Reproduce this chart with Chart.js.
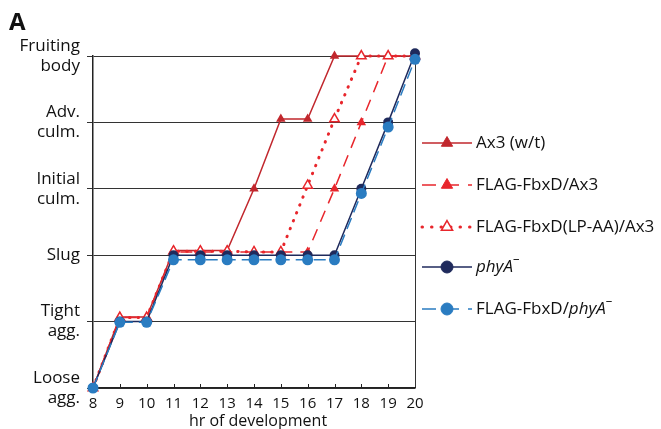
<!DOCTYPE html>
<html>
<head>
<meta charset="utf-8">
<script src="https://cdn.jsdelivr.net/npm/chart.js@4/dist/chart.umd.min.js"></script>
<style>
  html, body { margin: 0; padding: 0; background: #fff; }
</style>
</head>
<body>
<canvas id="devChart" width="661" height="429"></canvas>
<script>
// hours of development (x) and developmental stages (y, 0 = loose agg.)
const hours = [8, 9, 10, 11, 12, 13, 14, 15, 16, 17, 18, 19, 20];
const stageLabels = [['Loose', 'agg.'], ['Tight', 'agg.'], ['Slug'], ['Initial', 'culm.'], ['Adv.', 'culm.'], ['Fruiting', 'body']];
const xTitle = 'hr of development';

const ax3 =      [0, 1.07, 1.07, 2.07, 2.07, 2.07, 3, 4.05, 4.05, 5, 5, 5, 5];
const fbxdAx3 =  [0, 1.06, 1.06, 2.05, 2.05, 2.05, 2.05, 2.05, 2.05, 3, 4, 5, 5];
const lpaaAx3 =  [0, 1.06, 1.06, 2.06, 2.06, 2.06, 2.05, 2.05, 3.05, 4.05, 5, 5, 5];
const phyA =     [0, 1, 1, 2, 2, 2, 2, 2, 2, 2, 3, 4, 5.04];
const fbxdPhyA = [0, 0.99, 0.99, 1.93, 1.93, 1.93, 1.93, 1.93, 1.93, 1.93, 2.93, 3.93, 4.95];

const FONT = '"Open Sans", "Noto Sans", sans-serif';
const DARK_RED = '#c1272d';
const RED = '#e8262c';
const NAVY = '#1f2a5c';
const BLUE = '#2a7cc1';

function toPoints(values) {
    return hours.map((h, i) => ({ x: h, y: values[i] }));
}

// legend entries: text pieces are [text, style]
const legendItems = [
    { color: DARK_RED, dash: [], width: 1.5, style: 'triangle', fill: true,
      text: [['Ax3 (w/t)', '']] },
    { color: RED, dash: [14, 9], width: 1.5, style: 'triangle', fill: true,
      text: [['FLAG-FbxD/Ax3', '']] },
    { color: RED, dash: [0.5, 9], width: 3, style: 'triangle', fill: false,
      text: [['FLAG-FbxD(LP-AA)/Ax3', '']] },
    { color: NAVY, dash: [], width: 1.5, style: 'circle', fill: true,
      text: [['phyA', 'italic'], ['\u2013', 'sup']] },
    { color: BLUE, dash: [14, 9], width: 1.5, style: 'circle', fill: true,
      text: [['FLAG-FbxD/', ''], ['phyA', 'italic'], ['\u2013', 'sup']] }
];

const extrasPlugin = {
    id: 'extras',
    afterDraw(chart) {
        const ctx = chart.ctx;
        const xs = chart.scales.x;
        const area = chart.chartArea;
        ctx.save();

        // small inner ticks on the x axis
        ctx.strokeStyle = '#222';
        ctx.lineWidth = 1;
        hours.forEach(h => {
            if (h === 8 || h === 20) return;
            const px = Math.round(xs.getPixelForValue(h)) + 0.5;
            ctx.beginPath();
            ctx.moveTo(px, area.bottom);
            ctx.lineTo(px, area.bottom - 4);
            ctx.stroke();
        });

        // axis title, a bit right of centre like the original
        ctx.fillStyle = '#111';
        ctx.font = '16px ' + FONT;
        ctx.textAlign = 'center';
        ctx.textBaseline = 'middle';
        ctx.fillText(xTitle, (area.left + area.right) / 2 + 4, 421);

        // panel letter
        ctx.font = 'bold 24px ' + FONT;
        ctx.textAlign = 'left';
        ctx.fillText('A', 9, 23);

        // legend
        const legendYs = [143, 185, 227, 267, 309];
        legendItems.forEach((item, i) => {
            const y = legendYs[i];
            ctx.strokeStyle = item.color;
            ctx.lineWidth = item.width;
            ctx.lineCap = item.dash.length && item.dash[0] < 1 ? 'round' : 'butt';
            ctx.setLineDash(item.dash);
            ctx.beginPath();
            ctx.moveTo(422, y);
            ctx.lineTo(472, y);
            ctx.stroke();
            ctx.setLineDash([]);

            ctx.fillStyle = item.fill ? item.color : '#fff';
            ctx.strokeStyle = item.color;
            ctx.lineWidth = item.fill ? 1 : 1.5;
            Chart.helpers.drawPoint(ctx, {
                pointStyle: item.style, radius: item.style === 'circle' ? 6 : 6.5,
                borderWidth: ctx.lineWidth, rotation: 0
            }, 447, y);

            let tx = 476;
            ctx.fillStyle = '#111';
            ctx.textAlign = 'left';
            item.text.forEach(([t, s]) => {
                let dy = 0;
                if (s === 'italic') ctx.font = 'italic 17px ' + FONT;
                else if (s === 'sup') { ctx.font = '13px ' + FONT; dy = -8; }
                else ctx.font = '17px ' + FONT;
                ctx.fillText(t, tx, y + dy);
                tx += ctx.measureText(t).width;
            });
        });
        ctx.restore();
    }
};

const ctx = document.getElementById('devChart').getContext('2d');

new Chart(ctx, {
    type: 'line',
    data: {
        datasets: [
            {
                label: 'FLAG-FbxD/phyA',
                data: toPoints(fbxdPhyA),
                borderColor: BLUE, backgroundColor: BLUE,
                borderWidth: 1.5, borderDash: [12, 6],
                pointStyle: 'circle', pointRadius: 5.5, pointBorderWidth: 0,
                order: 1
            },
            {
                label: 'phyA',
                data: toPoints(phyA),
                borderColor: NAVY, backgroundColor: NAVY,
                borderWidth: 1.5,
                pointStyle: 'circle', pointRadius: 5, pointBorderWidth: 0,
                order: 2
            },
            {
                label: 'FLAG-FbxD(LP-AA)/Ax3',
                data: toPoints(lpaaAx3),
                borderColor: RED, backgroundColor: '#fff',
                borderWidth: 3, borderDash: [0.5, 8], borderCapStyle: 'round',
                pointStyle: 'triangle', pointRadius: 5.5, pointBorderWidth: 1.5,
                pointBackgroundColor: '#fff', pointBorderColor: RED,
                order: 3
            },
            {
                label: 'FLAG-FbxD/Ax3',
                data: toPoints(fbxdAx3),
                borderColor: RED, backgroundColor: RED,
                borderWidth: 1.5, borderDash: [12, 8],
                pointStyle: 'triangle', pointRadius: 5.5, pointBorderWidth: 0,
                order: 4
            },
            {
                label: 'Ax3 (w/t)',
                data: toPoints(ax3),
                borderColor: DARK_RED, backgroundColor: DARK_RED,
                borderWidth: 1.5,
                pointStyle: 'triangle', pointRadius: 5.5, pointBorderWidth: 0,
                order: 5
            }
        ]
    },
    options: {
        responsive: false,
        animation: false,
        clip: false,
        layout: { padding: { left: 0, top: 56, right: 246, bottom: 0 } },
        plugins: {
            legend: { display: false },
            tooltip: { enabled: false }
        },
        scales: {
            x: {
                type: 'linear',
                min: 8, max: 20,
                afterFit: scale => { scale.height = 41; },
                ticks: {
                    stepSize: 1, padding: 7, color: '#111',
                    font: { family: FONT, size: 15 }
                },
                grid: {
                    color: c => (c.tick && c.tick.value === 20) ? '#333' : 'rgba(0,0,0,0)',
                    drawTicks: false
                },
                border: { display: true, color: '#222', width: 1.5 }
            },
            y: {
                min: 0, max: 5,
                afterFit: scale => { scale.width = 93; },
                ticks: {
                    stepSize: 1, padding: 7, color: '#111',
                    font: { family: FONT, size: 17, lineHeight: 1.18 },
                    callback: v => stageLabels[v]
                },
                grid: { color: '#333', lineWidth: 1, tickLength: 6 },
                border: { display: true, color: '#222', width: 1.5 }
            }
        }
    },
    plugins: [extrasPlugin]
});
</script>
</body>
</html>
